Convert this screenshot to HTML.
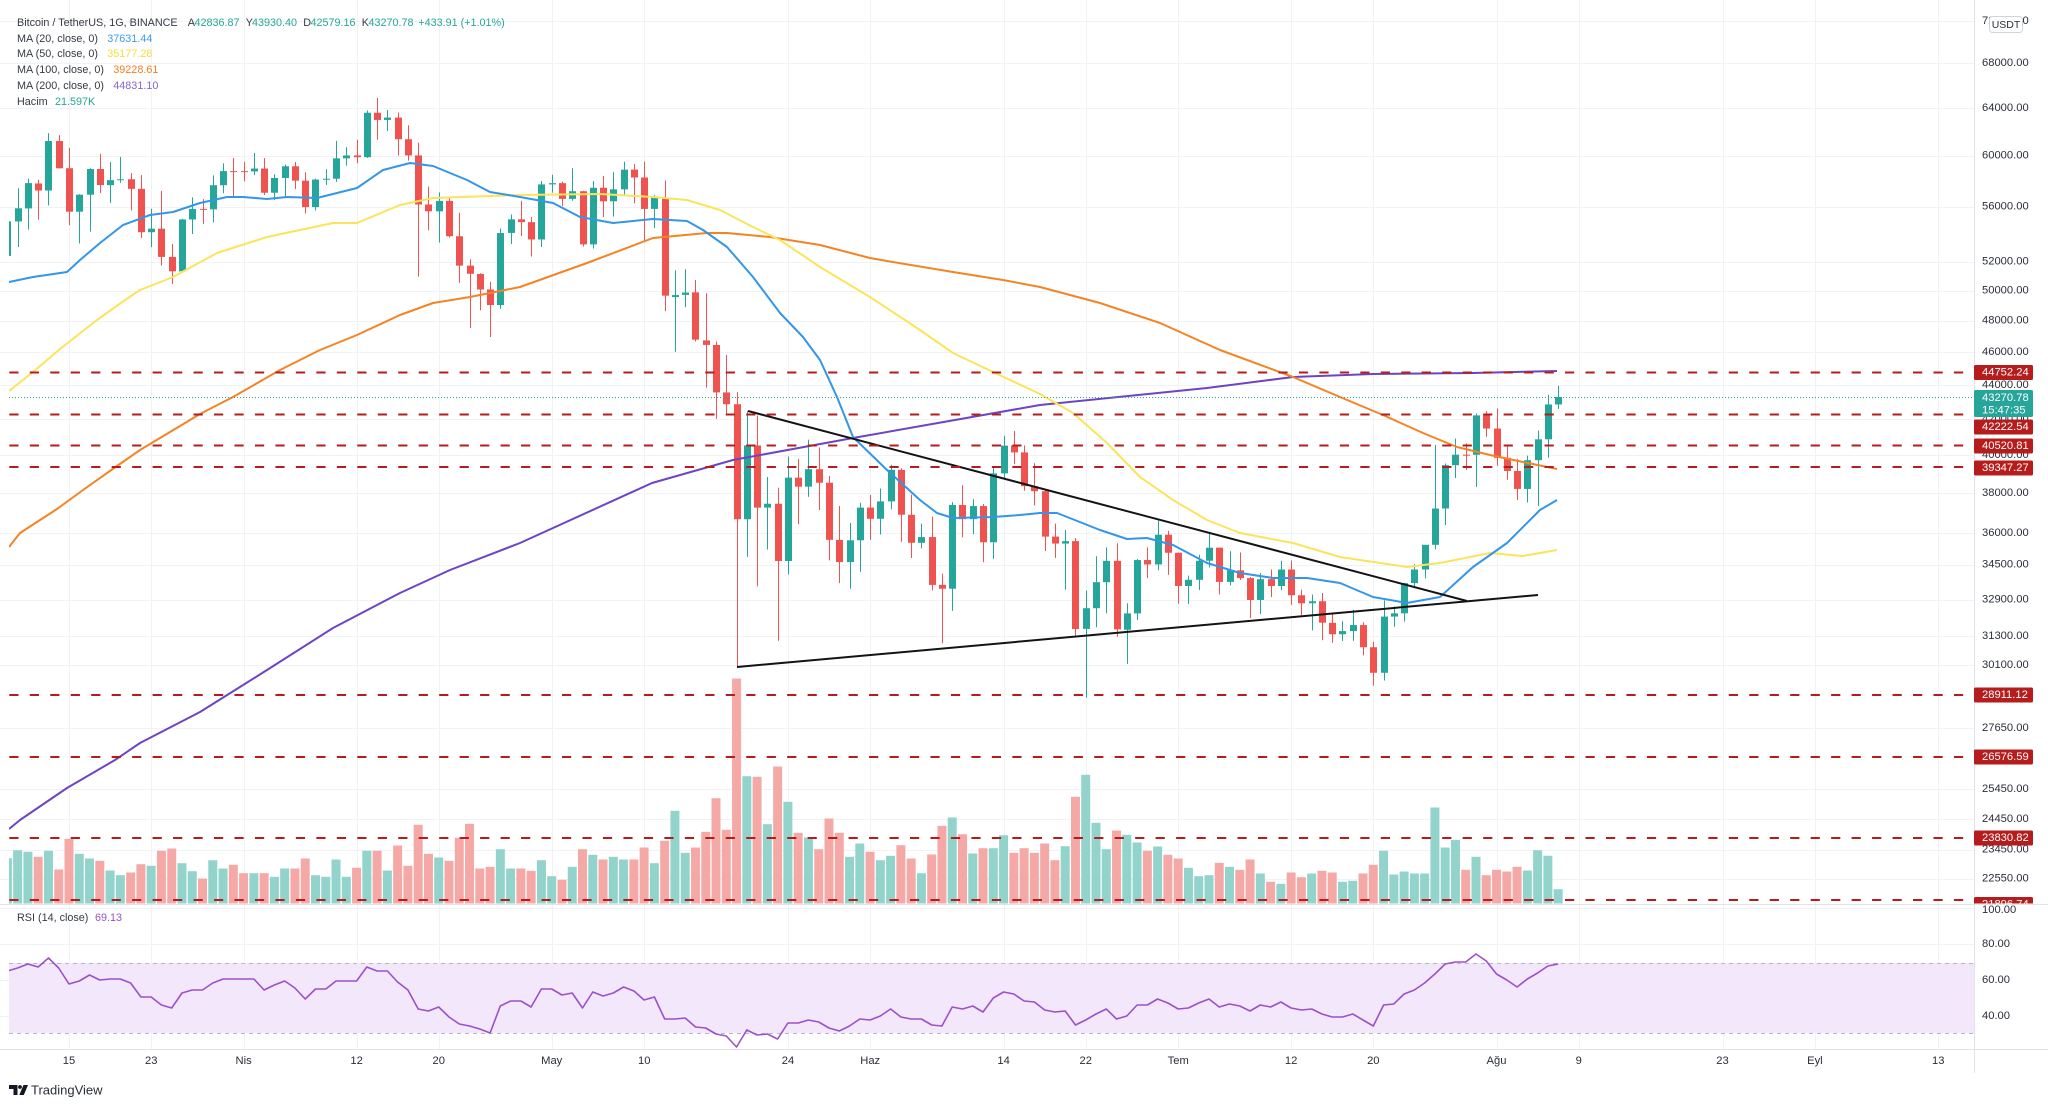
<!DOCTYPE html>
<html><head><meta charset="utf-8">
<style>
html,body{margin:0;padding:0;background:#fff;}
body{width:2048px;height:1107px;overflow:hidden;position:relative;font-family:"Liberation Sans",Arial,sans-serif;}
svg{position:absolute;left:0;top:0;}
text{font-family:"Liberation Sans",Arial,sans-serif;}
</style></head><body>
<svg id="c" width="2048" height="1107" viewBox="0 0 2048 1107" xmlns="http://www.w3.org/2000/svg">
<defs>
<clipPath id="mp"><rect x="9" y="0" width="1965" height="903.5"/></clipPath>
<clipPath id="rp"><rect x="9" y="905" width="1965" height="144"/></clipPath>
<clipPath id="lb"><rect x="1960" y="0" width="88" height="903.5"/></clipPath>
</defs>
<rect x="0" y="0" width="2048" height="1107" fill="#fff"/>
<g id="grid" stroke="#f0f2f6" stroke-width="1"></g>
<!-- RSI band -->
<rect x="9" y="963" width="1965" height="70" fill="#f3e7fc"/>
<line x1="9" y1="963.5" x2="1974" y2="963.5" stroke="#b8b6c4" stroke-width="1" stroke-dasharray="4 4"/>
<line x1="9" y1="1033.5" x2="1974" y2="1033.5" stroke="#b8b6c4" stroke-width="1" stroke-dasharray="4 4"/>
<!-- separators -->
<line x1="0" y1="904.5" x2="2048" y2="904.5" stroke="#e0e3eb" stroke-width="1"/>
<line x1="0" y1="1049.5" x2="2048" y2="1049.5" stroke="#e0e3eb" stroke-width="1"/>
<line x1="1974.5" y1="0" x2="1974.5" y2="1073" stroke="#e0e3eb" stroke-width="1"/>
<g clip-path="url(#mp)">
<g id="vol"></g>
<g id="cdl"></g>
<g fill="none" stroke-width="2" stroke-linejoin="round">
<polyline id="ma200" stroke="#6c44c4" points="9,829 20,820 67,788 115,760 140,743 200,712 267,670 333,628 400,593 450,570 520,543 652,483 733,460 853,438 1040,405 1207,388 1293,377 1373,374 1473,373 1557,371"/>
<polyline id="ma100" stroke="#f48423" points="9,547 20,533 57,509 83,490 117,466 140,450 200,414 233,397 280,370 320,350 357,335 400,315 433,303 470,297 520,287 587,263 653,238 707,233 727,233 770,237 820,245 870,258 887,261 953,272 1003,280 1040,287 1100,303 1160,323 1220,350 1293,377 1340,397 1383,415 1423,433 1457,447 1490,455 1523,462 1557,469"/>
<polyline id="ma50" stroke="#fbe45b" points="9,391 33,372 60,349 97,320 128,298 140,290 173,277 217,253 267,237 333,223 357,223 400,205 433,198 520,195 600,194 653,197 687,200 720,210 753,227 780,240 820,267 870,297 920,330 953,353 993,372 1040,394 1073,413 1107,443 1140,477 1173,500 1207,520 1240,533 1293,543 1340,557 1407,567 1440,563 1490,553 1523,556 1557,550"/>
<polyline id="ma20" stroke="#3396e8" points="9,282 33,277 67,272 80,260 100,243 123,225 150,215 173,212 200,203 227,197 243,197 267,199 287,197 317,198 357,188 383,170 410,163 433,166 467,180 490,192 520,197 553,203 580,217 613,223 653,219 687,221 703,230 727,247 753,277 780,313 803,337 820,360 837,397 853,437 887,470 920,500 937,513 953,518 993,517 1020,515 1040,513 1057,513 1100,530 1127,539 1147,538 1173,545 1207,563 1240,573 1273,578 1307,578 1340,583 1373,597 1407,603 1440,597 1473,567 1507,543 1540,510 1557,500"/>
</g>
<!-- trend lines -->
<line x1="748" y1="411" x2="1467" y2="601" stroke="#131313" stroke-width="2"/>
<line x1="737" y1="667" x2="1538" y2="595" stroke="#131313" stroke-width="2"/>
<!-- horizontal dashed levels -->
<g stroke="#b71c1c" stroke-width="2" stroke-dasharray="9.2 11.27">
<line x1="9.3" y1="372.5" x2="1974" y2="372.5"/>
<line x1="9.3" y1="414.5" x2="1974" y2="414.5"/>
<line x1="9.3" y1="445.5" x2="1974" y2="445.5"/>
<line x1="9.3" y1="467" x2="1974" y2="467"/>
<line x1="9.3" y1="695" x2="1974" y2="695"/>
<line x1="9.3" y1="757" x2="1974" y2="757"/>
<line x1="9.3" y1="838" x2="1974" y2="838"/>
<line x1="9.3" y1="900" x2="1974" y2="900"/>
</g>
<line x1="9" y1="397.5" x2="1974" y2="397.5" stroke="#26a69a" stroke-width="1" stroke-dasharray="1 2"/>
</g>
<g clip-path="url(#rp)">
<polyline id="rsi" fill="none" stroke="#9b51c9" stroke-width="1.6" stroke-linejoin="round" points=""/>
</g>

<!-- Legend -->
<g font-size="10.8" dominant-baseline="central" fill="#363a45">
<text x="17" y="23">Bitcoin / TetherUS, 1G, BINANCE</text>
<text x="187.7" y="23">A</text><text x="194.5" y="23" fill="#26a69a">42836.87</text>
<text x="245.7" y="23">Y</text><text x="252" y="23" fill="#26a69a">43930.40</text>
<text x="303.3" y="23">D</text><text x="310.5" y="23" fill="#26a69a">42579.16</text>
<text x="361.7" y="23">K</text><text x="368.5" y="23" fill="#26a69a">43270.78</text>
<text x="418.3" y="23" fill="#26a69a">+433.91 (+1.01%)</text>
<text x="17" y="39">MA (20, close, 0)</text><text x="107.3" y="39" fill="#3d9bf0">37631.44</text>
<text x="17" y="54">MA (50, close, 0)</text><text x="107.3" y="54" fill="#f7df3a">35177.28</text>
<text x="17" y="70">MA (100, close, 0)</text><text x="113.3" y="70" fill="#f08020">39228.61</text>
<text x="17" y="86">MA (200, close, 0)</text><text x="113.3" y="86" fill="#8466cc">44831.10</text>
<text x="17" y="102">Hacim</text><text x="55" y="102" fill="#26a69a">21.597K</text>
<text x="17" y="918">RSI (14, close)</text><text x="95" y="918" fill="#9b51c9">69.13</text>
</g>

<!-- Price axis ticks -->
<g font-size="11.2" dominant-baseline="central" fill="#2a2e39">
<text x="1982" y="21">72000.00</text>
<text x="1982" y="63">68000.00</text>
<text x="1982" y="108">64000.00</text>
<text x="1982" y="155.5">60000.00</text>
<text x="1982" y="206.5">56000.00</text>
<text x="1982" y="261.5">52000.00</text>
<text x="1982" y="290.5">50000.00</text>
<text x="1982" y="320.5">48000.00</text>
<text x="1982" y="352">46000.00</text>
<text x="1982" y="385">44000.00</text>
<text x="1982" y="419">42000.00</text>
<text x="1982" y="455">40000.00</text>
<text x="1982" y="493">38000.00</text>
<text x="1982" y="533">36000.00</text>
<text x="1982" y="564.5">34500.00</text>
<text x="1982" y="599.5">32900.00</text>
<text x="1982" y="636">31300.00</text>
<text x="1982" y="665">30100.00</text>
<text x="1982" y="728">27650.00</text>
<text x="1982" y="789">25450.00</text>
<text x="1982" y="819">24450.00</text>
<text x="1982" y="849.5">23450.00</text>
<text x="1982" y="878.5">22550.00</text>
<text x="1982" y="910">100.00</text>
<text x="1982" y="944">80.00</text>
<text x="1982" y="980">60.00</text>
<text x="1982" y="1016">40.00</text>
</g>
<!-- USDT box -->
<rect x="1989.5" y="16.5" width="33" height="16" rx="3" fill="#fff" stroke="#d1d4dc"/>
<text x="2006" y="25" font-size="10.5" text-anchor="middle" dominant-baseline="central" fill="#2a2e39">USDT</text>

<!-- Price labels -->
<g clip-path="url(#lb)">
<g fill="#b71c1c">
<rect x="1974" y="365" width="59" height="15" rx="1.5"/>
<rect x="1974" y="419.5" width="59" height="15" rx="1.5"/>
<rect x="1974" y="438.5" width="59" height="15" rx="1.5"/>
<rect x="1974" y="460.5" width="59" height="15" rx="1.5"/>
<rect x="1974" y="687.5" width="59" height="15" rx="1.5"/>
<rect x="1974" y="749.5" width="59" height="15" rx="1.5"/>
<rect x="1974" y="830.5" width="59" height="15" rx="1.5"/>
<rect x="1974" y="897" width="59" height="15" rx="1.5"/>
</g>
<rect x="1974" y="390" width="59" height="27" rx="1.5" fill="#26a69a"/>
<g font-size="11.2" dominant-baseline="central" fill="#ffffff">
<text x="1982" y="372.5">44752.24</text>
<text x="1982" y="398">43270.78</text>
<text x="1982" y="410.5">15:47:35</text>
<text x="1982" y="427">42222.54</text>
<text x="1982" y="446">40520.81</text>
<text x="1982" y="468">39347.27</text>
<text x="1982" y="695">28911.12</text>
<text x="1982" y="757">26576.59</text>
<text x="1982" y="838">23830.82</text>
<text x="1982" y="904.5">21896.74</text>
</g>
</g>

<!-- Time axis -->
<g id="taxis" font-size="11.2" text-anchor="middle" dominant-baseline="central" fill="#2a2e39"></g>

<!-- TradingView logo -->
<g fill="#131722">
<path d="M9 1085h8.5v10h-4v-6h-4.5z"/>
<circle cx="20" cy="1087" r="1.9"/>
<path d="M23.5 1085h4.5l-4.2 10h-4.5z"/>
</g>
<text x="31" y="1090" font-size="13" dominant-baseline="central" fill="#2a2e39">TradingView</text>
</svg>
<script>
(function(){
var D=[52375,54900,51845,54885,54875,57387,53005,55862,55851,58150,54272,57798,57773,58058,55013,57222,57222,61844,56078,61188,61188,61683,58964,58968,58976,60633,54600,55606,55605,56938,53271,56900,56900,58982,54123,58912,58913,60129,57023,57648,57641,59468,56270,58030,58030,59880,57820,58102,58101,58592,55700,57351,57352,58430,53650,54083,54083,55830,53000,54341,54342,57200,51700,52303,52304,53229,50427,51293,51293,55073,51214,55025,55025,56700,53950,55817,55818,56559,54691,55777,55781,58405,54800,57635,57635,59368,57011,58746,58746,59800,56769,58740,58739,59490,57935,58720,58720,60200,58428,58950,58950,59791,56880,57051,57051,58492,56478,58202,58203,59272,56800,59129,59130,59475,57333,57991,57990,58650,55473,55953,55953,58153,55700,58077,58077,58894,57654,58142,58143,61200,57902,59770,59770,60680,59176,60007,60007,61300,59365,59860,59861,63777,59800,63576,63575,64854,61301,62959,62959,63821,62020,63159,63158,63594,60000,61334,61334,62506,59580,60006,60006,61057,50931,56150,56150,57526,54221,55633,55634,57076,53329,56425,56425,56757,53695,53787,53787,55521,50500,51690,51690,52131,47500,51125,51111,51166,48658,50047,50047,50567,46930,49004,49004,54356,48753,54021,54031,55400,53222,55034,55034,56428,53813,54824,54825,55200,52330,53555,53555,57963,53013,57697,57697,58458,57052,57797,57797,57911,56035,56578,56578,58981,56435,57169,57169,57200,53046,53200,53199,57963,52900,57436,57436,58360,55200,56393,56394,58650,55241,57314,57315,59500,56900,58862,58867,59300,56235,58240,58240,59500,53400,55816,55817,56862,54370,56670,56670,58000,48600,49631,49537,51367,46000,49671,49682,51438,48868,49841,49855,50700,46650,46762,46716,49800,43825,46431,46427,46643,42001,43539,43538,45800,42250,42850,42850,43547,30000,36671,36671,42451,34850,40526,40526,42200,33488,37252,37253,38832,35200,37449,37449,38270,31111,34655,34655,39920,34031,38796,38795,39791,36419,38324,38324,40841,37800,39241,39241,40411,37134,38529,38529,38877,34684,35663,35662,37338,33632,34606,34606,36488,33379,35641,35642,37499,34154,37253,37254,37894,35666,36694,36694,38225,35920,37569,37569,39476,37170,39208,39208,39289,35567,36895,36894,37917,34800,35520,35521,36457,35253,35797,35797,36800,33300,33552,33556,34068,31000,33380,33380,37530,32396,37389,37388,38400,35782,36675,36677,37680,35936,37331,37331,37437,34600,35546,35546,39380,34757,39020,39020,41064,38730,40516,40516,41330,39506,40144,40143,40527,38116,38349,38349,39559,37365,38092,38092,38202,35129,35819,35820,36457,34803,35483,35484,36137,33336,35601,35601,35750,31252,31608,31614,33298,28805,32509,32510,34881,31683,33678,33676,35298,32286,34664,34664,35500,31275,31594,31576,32730,30151,32283,32283,34750,32000,34700,34702,35297,33862,34494,34494,36600,34225,35911,35912,36100,34017,35045,35045,35057,32712,33504,33502,33977,32699,33786,33786,34945,33316,34669,34669,35967,34357,35286,35288,35293,33125,33690,33690,35118,33532,34220,34220,35059,33777,33862,33862,33912,32081,32875,32876,34100,32261,33815,33815,34262,33004,33502,33502,34666,33306,34259,34259,34679,32658,33086,33086,33340,32203,32729,32729,33114,31550,32820,32820,33185,31133,31880,31874,32249,31020,31383,31384,31949,31100,31520,31520,32435,31108,31778,31778,31899,30501,30839,30839,31063,29278,29790,29790,32858,29482,32144,32144,32591,31708,32287,32287,33650,31925,33634,33635,34500,33401,34258,34259,35398,33851,35425,35425,40550,35205,37208,37208,39543,36383,39456,39456,40900,38772,40020,40020,40640,39200,40016,40016,42316,38313,42206,42206,42448,41000,41462,41462,42599,39422,39846,39850,40480,38690,39147,39147,39780,37642,38207,38207,39969,37508,39723,39723,41350,37332,40862,40862,43392,39853,42836,42836,43930,42579,43270];
var V=[45.3,53.3,51.7,46.7,52.7,34,64.7,49.7,45,42.7,33,28.3,31,39.3,37.7,52.7,55,40.3,32.3,25,43.3,35,38.7,30.3,30.3,30.3,26.7,35,35,45,28.3,26.7,44,26.7,35.7,52.7,52.7,33,58,37.7,78.7,49.7,46,42.7,65.7,79.7,35,36.7,54.3,35,35,32.7,43.3,27.3,23.7,36.7,54.3,48.7,44,46.7,44,44,56,40.3,62.7,92.7,50.7,56,71.7,105.3,73.7,225,127.3,126.7,79.3,137,101.7,70.7,66,54.3,85,70.7,46.7,60,51.7,43.3,47.7,58.3,45,30.3,49,77.7,86,69.3,50,55.3,55.3,68.3,50.7,55.3,50.7,60,43.3,57.3,106.7,128.7,80.7,54.3,73,68.7,61,52.7,57,48.7,45,35.7,27.3,28.3,40.7,36.7,33.7,44,30,21.7,19.7,31,26.3,30,32.7,31,21.7,22.7,30,38.7,52.7,29,32,30,30,96,56,63.7,33.7,46.7,28.3,33.7,32,36.7,33,53.3,47.7,14.3];
var R=[971,968,964,967,958,968,984,981,975,980,979,979,983,997,997,1005,1008,993,990,990,983,979,979,979,979,990,985,981,988,999,989,989,981,981,981,967,971,971,982,990,1009,1011,1007,1017,1024,1026,1029,1033,1006,1001,1001,1007,989,989,995,993,1008,992,996,993,987,991,1000,997,1019,1019,1018,1027,1028,1034,1036,1047,1030,1035,1034,1039,1023,1023,1020,1022,1028,1031,1026,1019,1020,1016,1009,1017,1019,1019,1025,1026,1007,1009,1006,1012,998,992,994,1001,1002,1010,1012,1011,1025,1020,1014,1009,1019,1016,1005,1005,999,1003,1009,1008,1003,999,1007,1004,1006,1011,1005,1007,1002,1008,1010,1009,1014,1017,1017,1014,1020,1026,1005,1004,994,990,983,974,964,962,962,954,961,974,980,987,979,973,966,964];
function Y(p){return 63+(11.1273-Math.log(p))*738.8;}
function X(i){return 7.38+i*10.27;}
var vs='',cs='',n=V.length,i;
for(i=0;i<n;i++){
 var o=D[i*4],h=D[i*4+1],l=D[i*4+2],c=D[i*4+3];
 var up=c>=o, col=up?'#26a69a':'#ef5350';
 var x=X(i), xr=Math.round(x);
 vs+='<rect x="'+(x-4.5).toFixed(2)+'" y="'+(903.5-V[i]).toFixed(2)+'" width="9" height="'+V[i]+'" fill="'+(up?'#92d3cb':'#f5a9a7')+'"/>';
 var yh=Y(h),yl=Y(l),yo=Y(o),yc=Y(c);
 cs+='<rect x="'+xr+'" y="'+yh.toFixed(2)+'" width="1" height="'+(yl-yh).toFixed(2)+'" fill="'+col+'"/>';
 var t=Math.min(yo,yc),hh=Math.max(1,Math.abs(yo-yc));
 cs+='<rect x="'+(xr-3)+'" y="'+t.toFixed(2)+'" width="7" height="'+hh.toFixed(2)+'" fill="'+col+'"/>';
}
document.getElementById('vol').innerHTML=vs;
document.getElementById('cdl').innerHTML=cs;
var pts=[];for(i=0;i<R.length;i++){pts.push(X(i).toFixed(1)+','+R[i]);}
document.getElementById('rsi').setAttribute('points',pts.join(' '));
// grid
var gs='';
var hy=[21,63,108,155.5,206.5,261.5,290.5,320.5,352,385,419,455,493,533,564.5,599.5,636,665,728,789,819,849.5,878.5,908,944,980,1016];
for(i=0;i<hy.length;i++){gs+='<line x1="0" y1="'+(Math.round(hy[i])+0.5)+'" x2="1974" y2="'+(Math.round(hy[i])+0.5)+'"/>';}
var T=[["15",69],["23",151.2],["Nis",243.6],["12",356.6],["20",438.7],["May",551.7],["10",644.2],["24",788],["Haz",870.2],["14",1003.6],["22",1085.7],["Tem",1178.2],["12",1291.1],["20",1373.3],["Ağu",1496.5],["9",1578.7],["23",1722.5],["Eyl",1814.9],["13",1938.2]];
var ts='';
for(i=0;i<T.length;i++){var xx=Math.round(T[i][1])+0.5;gs+='<line x1="'+xx+'" y1="0" x2="'+xx+'" y2="1049"/>';
 ts+='<text x="'+T[i][1]+'" y="1061">'+T[i][0]+'</text>';}
document.getElementById('grid').innerHTML=gs;
document.getElementById('taxis').innerHTML=ts;
})();
</script>
</body></html>
